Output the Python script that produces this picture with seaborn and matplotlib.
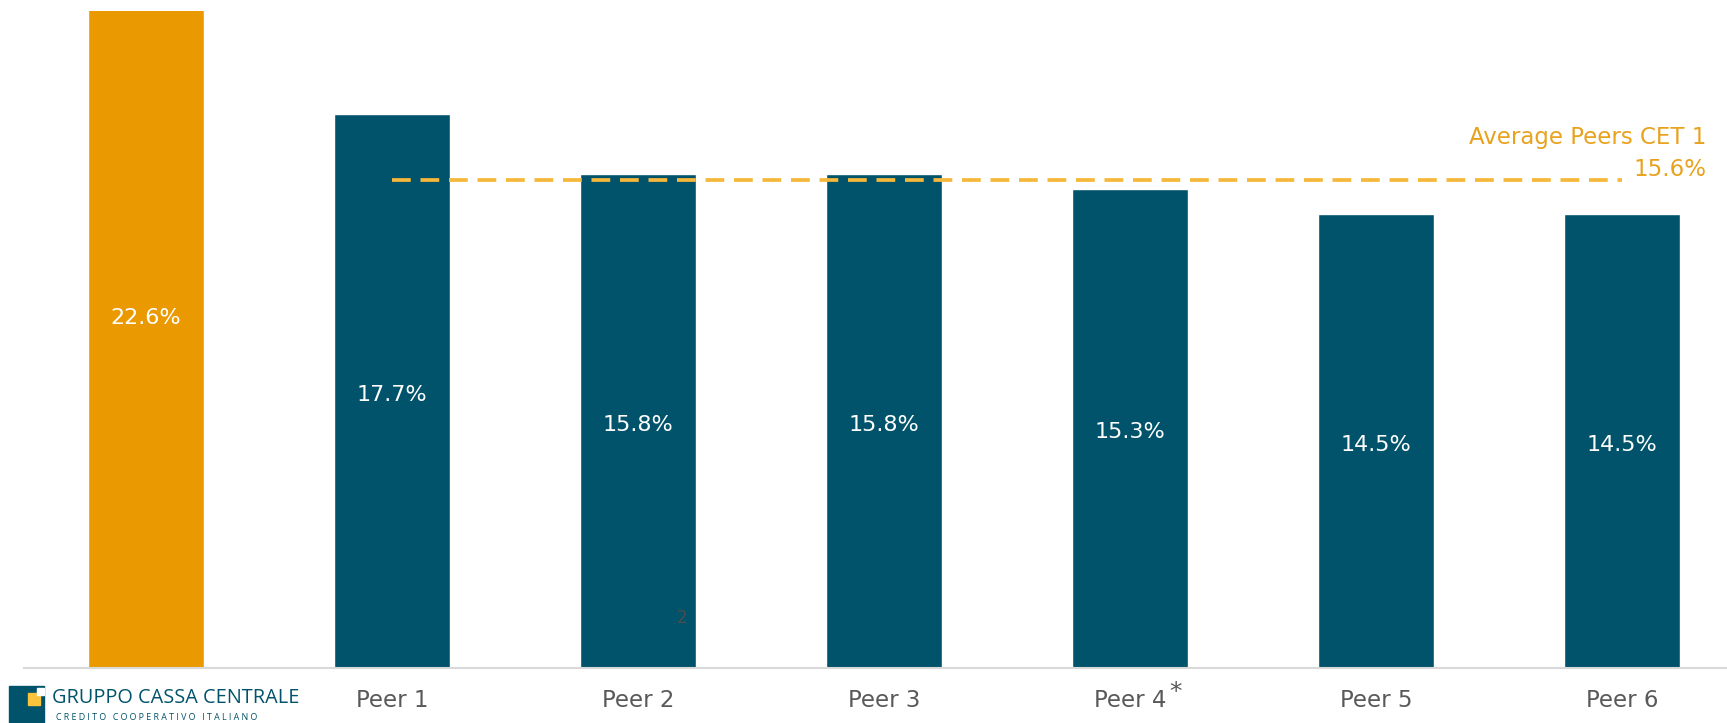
import matplotlib
matplotlib.use("Agg")
import matplotlib.pyplot as plt
import matplotlib.patches as mpatches
import seaborn as sns
import pandas as pd

# data
categories = ["Gruppo Cassa Centrale", "Peer 1", "Peer 2", "Peer 3", "Peer 4", "Peer 5", "Peer 6"]
tick_labels = ["", "Peer 1", "Peer 2", "Peer 3", "Peer 4", "Peer 5", "Peer 6"]
cet1 = [22.6, 17.7, 15.8, 15.8, 15.3, 14.5, 14.5]
avg_peers = 15.6
avg_label = "Average Peers CET 1"

ORANGE = "#EA9900"
TEAL = "#00536A"
AVG_COLOR = "#F6B83A"
AVG_TEXT = "#E8A21E"
GREY = "#595959"

sns.set_theme(style="white")
plt.rcParams["font.family"] = ["DejaVu Sans"]

df = pd.DataFrame({"bank": categories, "cet1": cet1})
palette = {c: (ORANGE if i == 0 else TEAL) for i, c in enumerate(categories)}

fig = plt.figure(figsize=(17.27, 7.23), dpi=100)
ax = fig.add_axes([24 / 1727, 55 / 723, 1 - 24 / 1727, 657 / 723])

sns.barplot(data=df, x="bank", y="cet1", hue="bank", palette=palette,
            width=0.47, saturation=1, legend=False, ax=ax)

ax.set_xlim(-0.496, 6.427)
ax.set_ylim(0, 21.0)
ax.set_xlabel("")
ax.set_ylabel("")
ax.set_yticks([])
ax.set_xticks(range(len(categories)))
ax.set_xticklabels(tick_labels, fontsize=16.5, color=GREY)
ax.tick_params(axis="x", length=0, pad=15)
for side in ["top", "left", "right"]:
    ax.spines[side].set_visible(False)
ax.spines["bottom"].set_color("#D9D9D9")
ax.spines["bottom"].set_linewidth(1.5)

# value labels in the middle of each bar
for i, v in enumerate(cet1):
    ax.text(i, v / 2 - 0.12, f"{v:.1f}%", ha="center", va="center",
            color="white", fontsize=16)

# average of peers
ax.hlines(avg_peers, 1, 6, colors=AVG_COLOR, linewidth=2.7,
          linestyles=(0, (5, 2.6)))
ax.text(6.345, avg_peers + 1.36, avg_label, ha="right", va="center",
        color=AVG_TEXT, fontsize=16.5)
ax.text(6.345, avg_peers + 0.34, f"{avg_peers:.1f}%", ha="right", va="center",
        color=AVG_TEXT, fontsize=16.5)

# footnote marker next to Peer 4
fig.text(1169 / 1727, 1 - 692 / 723, "*", ha="left", va="center",
         color=GREY, fontsize=18)

# stray page number
ax.text(2.18, 1.6, "2", ha="center", va="center", color="#4d4d4d", fontsize=12)

# logo
fig.patches.append(mpatches.Rectangle((9 / 1727, 0), 35 / 1727, 37 / 723,
                                      transform=fig.transFigure, color=TEAL))
fig.patches.append(mpatches.Rectangle((28 / 1727, 18 / 723), 12 / 1727, 12 / 723,
                                      transform=fig.transFigure, color="#F9C33C"))
fig.patches.append(mpatches.Rectangle((37 / 1727, 28 / 723), 7 / 1727, 7 / 723,
                                      transform=fig.transFigure, color="white"))
fig.text(52 / 1727, 1 - 698 / 723, "GRUPPO CASSA CENTRALE", ha="left", va="center",
         color=TEAL, fontsize=14.3, family=["Open Sans", "DejaVu Sans"])
fig.text(56 / 1727, 1 - 717 / 723, "C R E D I T O   C O O P E R A T I V O   I T A L I A N O",
         ha="left", va="center", color=TEAL, fontsize=6.4,
         family=["Open Sans", "DejaVu Sans"])

fig.savefig("out.png", dpi=100)
